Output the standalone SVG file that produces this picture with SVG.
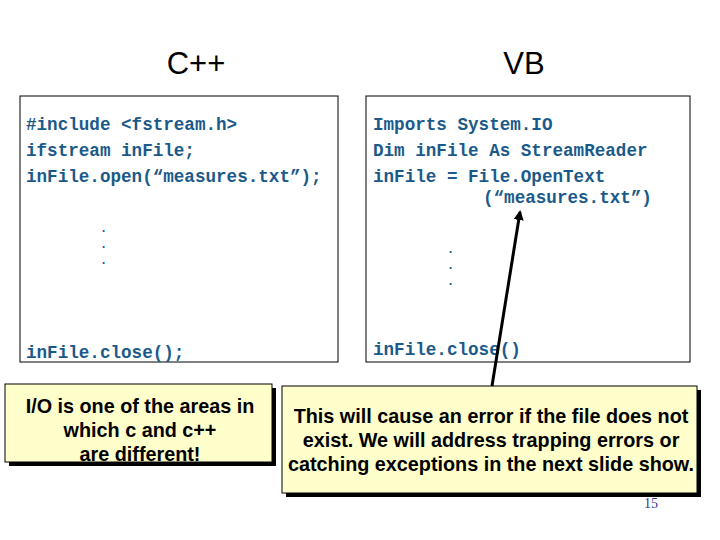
<svg xmlns="http://www.w3.org/2000/svg" width="720" height="540" viewBox="0 0 720 540">
<defs>
<style>
.t{font-family:"Liberation Sans",Arial,sans-serif;font-size:31px;fill:#000;text-anchor:middle}
.c{font-family:"Liberation Mono","Courier New",monospace;font-size:17.6px;font-weight:bold;fill:#1a5a8a}
.d{font-family:"Liberation Mono","Courier New",monospace;font-size:12px;font-weight:bold;fill:#1a5a8a}
.box{fill:#fff;stroke:#000;stroke-width:1}
.call{fill:#ffffcc;stroke:#000;stroke-width:1}
.sh{fill:#000}
.n{font-family:"Liberation Sans",Arial,sans-serif;font-size:19.8px;font-weight:bold;fill:#000;text-anchor:middle}
</style>
<marker id="ah" markerWidth="10" markerHeight="10" refX="8" refY="5" orient="auto" markerUnits="userSpaceOnUse"><path d="M0,0 L10,5 L0,10 Z" fill="#000"/></marker>
</defs>
<rect width="720" height="540" fill="#fff"/>
<text class="t" x="196" y="74">C++</text>
<text class="t" x="524" y="74">VB</text>
<g id="cpp">
<rect class="box" x="20" y="96" width="318" height="266"/>
<text class="c" x="26" y="130">#include &lt;fstream.h&gt;</text>
<text class="c" x="26" y="156">ifstream inFile;</text>
<text class="c" x="26" y="182">inFile.open(“measures.txt”);</text>
<text class="d" x="100" y="232">.</text>
<text class="d" x="100" y="248">.</text>
<text class="d" x="100" y="264">.</text>
<text class="c" x="26" y="358">inFile.close();</text>
</g>
<g id="vb">
<rect class="box" x="366" y="96" width="324" height="266"/>
<text class="c" x="373" y="130">Imports System.IO</text>
<text class="c" x="373" y="156">Dim inFile As StreamReader</text>
<text class="c" x="373" y="182">inFile = File.OpenText</text>
<text class="c" x="483" y="203">(“measures.txt”)</text>
<text class="d" x="447" y="253">.</text>
<text class="d" x="447" y="269">.</text>
<text class="d" x="447" y="285">.</text>
<text class="c" x="373" y="355">inFile.close()</text>
</g>
<g id="note1">
<rect class="sh" x="9" y="388" width="267" height="78"/>
<rect class="call" x="5" y="384" width="267" height="78"/>
<text class="n" x="140" y="413">I/O is one of the areas in</text>
<text class="n" x="140" y="437">which c and c++</text>
<text class="n" x="140" y="461">are different!</text>
</g>
<g id="note2">
<rect class="sh" x="286" y="390" width="415" height="107"/>
<rect class="call" x="282" y="386" width="415" height="107"/>
<text class="n" x="491" y="423">This will cause an error if the file does not</text>
<text class="n" x="491" y="447">exist. We will address trapping errors or</text>
<text class="n" x="491" y="471">catching exceptions in the next slide show.</text>
</g>
<g id="connectors">
<line x1="492" y1="386" x2="520" y2="212" stroke="#000" stroke-width="3" marker-end="url(#ah)"/>
</g>
<text x="651" y="508" font-family="Liberation Serif,serif" font-size="14" fill="#333399" text-anchor="middle">15</text>
</svg>
